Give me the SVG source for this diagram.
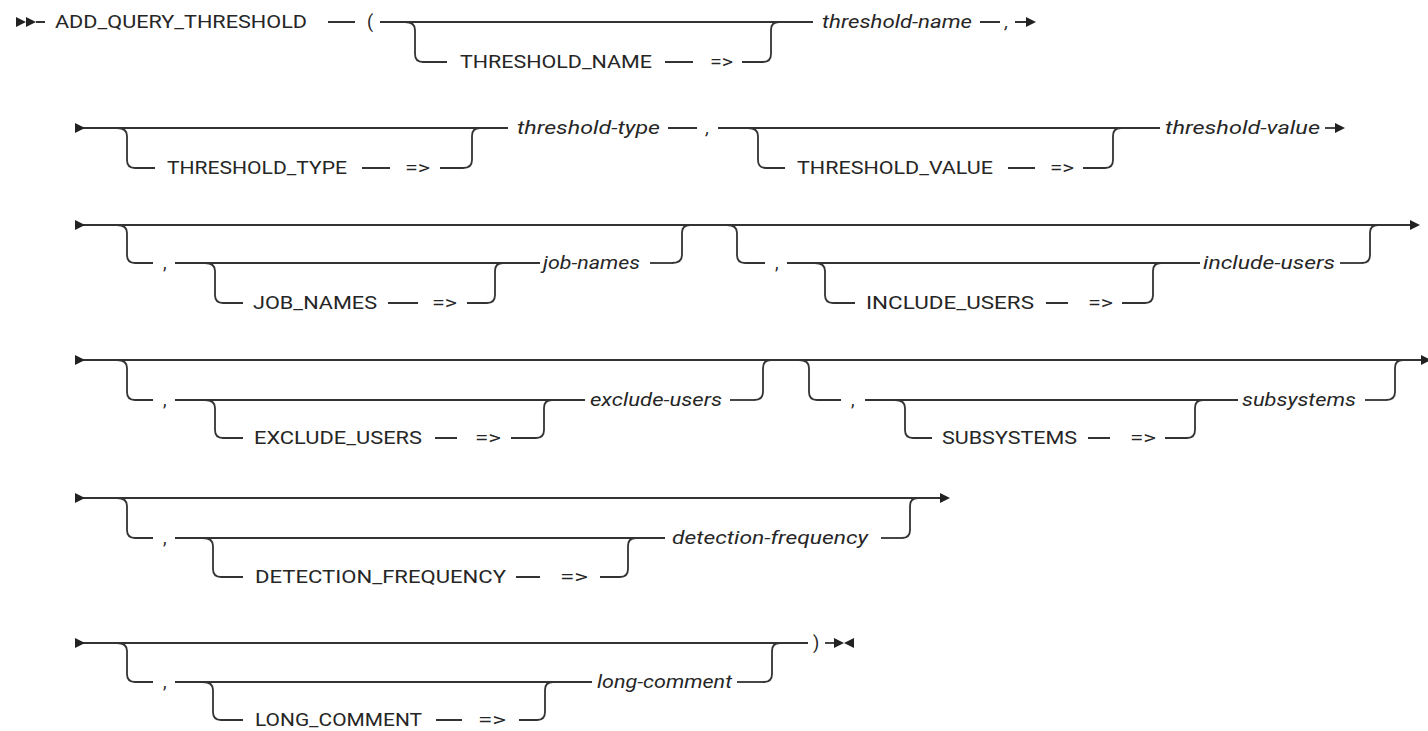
<svg xmlns="http://www.w3.org/2000/svg" width="1428" height="731" viewBox="0 0 1428 731">
<defs>
<style>
.c path{fill:none;stroke:#333;stroke-width:1.8}
.t{font-family:Roboto,"Liberation Sans",sans-serif;font-size:18px;fill:#262626}
.i{font-style:italic}
.a{fill:#222}
</style>
<path id="ar" d="M0,-5 L10,0 L0,5 Z"/>
<path id="al" d="M10,-5 L0,0 L10,5 Z"/>
</defs>
<rect width="1428" height="731" fill="#fff"/>
<g id="connectors" class="c">
<!-- row 1 -->
<path d="M36,22 H45 M328,22 H355 M380,22 H813"/>
<path d="M405,22 Q415,22 415,30 V54 Q415,62 423,62 H447"/>
<path d="M665,62 H693 M742,62 H763"/>
<path d="M763,62 Q771,62 771,54 V30 Q771,22 779,22"/>
<path d="M980,22 H1000 M1015,22 H1028"/>
<!-- row 2 -->
<path d="M80,128 H508"/>
<path d="M117,128 Q127,128 127,136 V160 Q127,168 135,168 H155"/>
<path d="M362,168 H390 M440,168 H463"/>
<path d="M463,168 Q472,168 472,160 V136 Q472,128 480,128"/>
<path d="M668,128 H697 M718,128 H1160"/>
<path d="M748,128 Q758,128 758,136 V160 Q758,168 766,168 H785"/>
<path d="M1008,168 H1035 M1083,168 H1105"/>
<path d="M1105,168 Q1113,168 1113,160 V136 Q1113,128 1121,128"/>
<path d="M1325,128 H1337"/>
<!-- row 3 -->
<path d="M80,225 H1411"/>
<path d="M117,225 Q127,225 127,233 V255 Q127,263 135,263 H153"/>
<path d="M175,263 H540"/>
<path d="M205,263 Q215,263 215,271 V295 Q215,303 223,303 H243"/>
<path d="M388,303 H418 M467,303 H487"/>
<path d="M487,303 Q495,303 495,295 V271 Q495,263 503,263"/>
<path d="M650,263 H672"/>
<path d="M672,263 Q682,263 682,255 V233 Q682,225 690,225"/>
<path d="M727,225 Q737,225 737,233 V255 Q737,263 745,263 H765"/>
<path d="M787,263 H1200"/>
<path d="M815,263 Q825,263 825,271 V295 Q825,303 833,303 H855"/>
<path d="M1046,303 H1068 M1122,303 H1145"/>
<path d="M1145,303 Q1153,303 1153,295 V271 Q1153,263 1161,263"/>
<path d="M1340,263 H1362"/>
<path d="M1362,263 Q1370,263 1370,255 V233 Q1370,225 1378,225"/>
<!-- row 4 -->
<path d="M80,360 H1422"/>
<path d="M117,360 Q127,360 127,368 V392 Q127,400 135,400 H153"/>
<path d="M175,400 H585"/>
<path d="M205,400 Q215,400 215,408 V430 Q215,438 223,438 H243"/>
<path d="M435,438 H457 M511,438 H536"/>
<path d="M536,438 Q544,438 544,430 V408 Q544,400 552,400"/>
<path d="M730,400 H754"/>
<path d="M754,400 Q763,400 763,392 V368 Q763,360 771,360"/>
<path d="M799,360 Q809,360 809,368 V392 Q809,400 817,400 H841"/>
<path d="M865,400 H1238"/>
<path d="M895,400 Q905,400 905,408 V430 Q905,438 913,438 H932"/>
<path d="M1088,438 H1110 M1165,438 H1187"/>
<path d="M1187,438 Q1195,438 1195,430 V408 Q1195,400 1203,400"/>
<path d="M1365,400 H1386"/>
<path d="M1386,400 Q1395,400 1395,392 V368 Q1395,360 1403,360"/>
<!-- row 5 -->
<path d="M80,498 H941"/>
<path d="M117,498 Q127,498 127,506 V530 Q127,538 135,538 H153"/>
<path d="M175,538 H665"/>
<path d="M203,538 Q213,538 213,546 V569 Q213,577 221,577 H243"/>
<path d="M516,577 H540 M600,577 H620"/>
<path d="M620,577 Q628,577 628,569 V546 Q628,538 636,538"/>
<path d="M881,538 H902"/>
<path d="M902,538 Q910,538 910,530 V506 Q910,498 918,498"/>
<!-- row 6 -->
<path d="M80,643 H808"/>
<path d="M117,643 Q127,643 127,651 V674 Q127,682 135,682 H153"/>
<path d="M175,682 H592"/>
<path d="M203,682 Q213,682 213,690 V712 Q213,720 221,720 H243"/>
<path d="M436,720 H462 M519,720 H537"/>
<path d="M537,720 Q545,720 545,712 V690 Q545,682 553,682"/>
<path d="M737,682 H764"/>
<path d="M764,682 Q772,682 772,674 V651 Q772,643 780,643"/>
<path d="M825,643 H836"/>
</g>
<g id="markers" class="a">
<use href="#ar" x="16" y="22"/>
<use href="#ar" x="26" y="22"/>
<use href="#ar" x="1026" y="22"/>
<use href="#ar" x="75" y="128"/>
<use href="#ar" x="1335" y="128"/>
<use href="#ar" x="75" y="225"/>
<use href="#ar" x="1410" y="225"/>
<use href="#ar" x="75" y="360"/>
<use href="#ar" x="1421" y="360"/>
<use href="#ar" x="75" y="498"/>
<use href="#ar" x="940" y="498"/>
<use href="#ar" x="75" y="643"/>
<use href="#ar" x="834" y="643"/>
<use href="#al" x="844" y="643"/>
</g>
<g id="n-add" class="t"><text x="55" y="28" textLength="252" lengthAdjust="spacingAndGlyphs">ADD_QUERY_THRESHOLD</text></g>
<g id="n-lparen" class="t"><text x="367" y="28">(</text></g>
<g id="n-kw-threshold-name" class="t"><text x="460" y="68" textLength="192" lengthAdjust="spacingAndGlyphs">THRESHOLD_NAME</text><text x="710" y="68" textLength="23" lengthAdjust="spacingAndGlyphs">=&gt;</text></g>
<g id="n-threshold-name" class="t i"><text x="822" y="28" textLength="150" lengthAdjust="spacingAndGlyphs">threshold-name</text><text x="1005" y="28">,</text></g>
<g id="n-kw-threshold-type" class="t"><text x="167" y="174" textLength="180" lengthAdjust="spacingAndGlyphs">THRESHOLD_TYPE</text><text x="405" y="174" textLength="25" lengthAdjust="spacingAndGlyphs">=&gt;</text></g>
<g id="n-threshold-type" class="t i"><text x="517" y="134" textLength="143" lengthAdjust="spacingAndGlyphs">threshold-type</text><text x="706" y="134">,</text></g>
<g id="n-kw-threshold-value" class="t"><text x="797" y="174" textLength="196" lengthAdjust="spacingAndGlyphs">THRESHOLD_VALUE</text><text x="1050" y="174" textLength="24" lengthAdjust="spacingAndGlyphs">=&gt;</text></g>
<g id="n-threshold-value" class="t i"><text x="1165" y="134" textLength="155" lengthAdjust="spacingAndGlyphs">threshold-value</text></g>
<g id="n-job-names" class="t"><text x="163" y="269">,</text><text x="253" y="309" textLength="124" lengthAdjust="spacingAndGlyphs">JOB_NAMES</text><text x="432" y="309" textLength="25" lengthAdjust="spacingAndGlyphs">=&gt;</text><text class="i" x="543" y="269" textLength="97" lengthAdjust="spacingAndGlyphs">job-names</text></g>
<g id="n-include-users" class="t"><text x="775" y="269">,</text><text x="866" y="309" textLength="168" lengthAdjust="spacingAndGlyphs">INCLUDE_USERS</text><text x="1088" y="309" textLength="25" lengthAdjust="spacingAndGlyphs">=&gt;</text><text class="i" x="1203" y="269" textLength="132" lengthAdjust="spacingAndGlyphs">include-users</text></g>
<g id="n-exclude-users" class="t"><text x="163" y="406">,</text><text x="254" y="444" textLength="168" lengthAdjust="spacingAndGlyphs">EXCLUDE_USERS</text><text x="475" y="444" textLength="26" lengthAdjust="spacingAndGlyphs">=&gt;</text><text class="i" x="590" y="406" textLength="132" lengthAdjust="spacingAndGlyphs">exclude-users</text></g>
<g id="n-subsystems" class="t"><text x="851" y="406">,</text><text x="942" y="444" textLength="135" lengthAdjust="spacingAndGlyphs">SUBSYSTEMS</text><text x="1130" y="444" textLength="26" lengthAdjust="spacingAndGlyphs">=&gt;</text><text class="i" x="1242" y="406" textLength="114" lengthAdjust="spacingAndGlyphs">subsystems</text></g>
<g id="n-detection-frequency" class="t"><text x="163" y="544">,</text><text x="255" y="583" textLength="251" lengthAdjust="spacingAndGlyphs">DETECTION_FREQUENCY</text><text x="560" y="583" textLength="28" lengthAdjust="spacingAndGlyphs">=&gt;</text><text class="i" x="672" y="544" textLength="196" lengthAdjust="spacingAndGlyphs">detection-frequency</text></g>
<g id="n-long-comment" class="t"><text x="163" y="688">,</text><text x="255" y="726" textLength="167" lengthAdjust="spacingAndGlyphs">LONG_COMMENT</text><text x="478" y="726" textLength="28" lengthAdjust="spacingAndGlyphs">=&gt;</text><text class="i" x="597" y="688" textLength="135" lengthAdjust="spacingAndGlyphs">long-comment</text></g>
<g id="n-rparen" class="t"><text x="813" y="649">)</text></g>
</svg>
